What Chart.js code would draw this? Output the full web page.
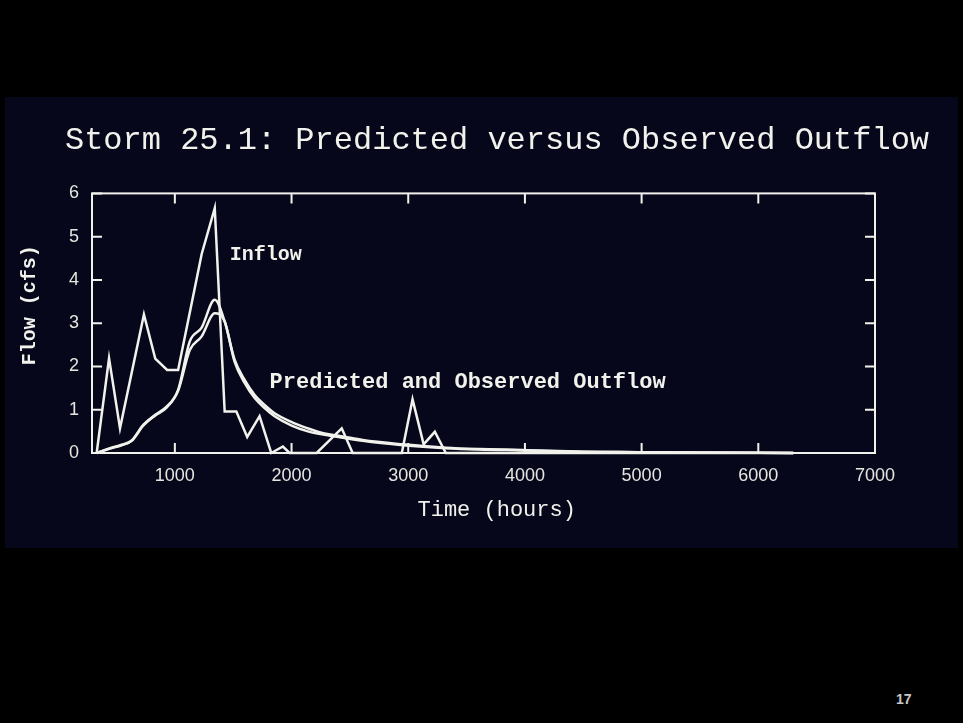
<!DOCTYPE html>
<html>
<head>
<meta charset="utf-8">
<script src="https://cdn.jsdelivr.net/npm/chart.js@4.4.1/dist/chart.umd.min.js"></script>
<style>
  body { margin: 0; background: #000; width: 963px; height: 723px; overflow: hidden; position: relative; }
  #panel { position: absolute; left: 5px; top: 97px; width: 953px; height: 451px; background: #07071b; }
  #page-no { position: absolute; left: 896px; top: 691px; font: bold 14px "Liberation Sans", Arial, sans-serif; color: #c8c8c8; }
</style>
</head>
<body>
<div id="panel"><canvas id="storm" width="953" height="451"></canvas></div>
<div id="page-no">17</div>
<script>
// values (time in hours, flow in cfs)
const inflowHours = [330, 436, 530, 735, 832, 934, 1028, 1230, 1342, 1427, 1527, 1620, 1726, 1826, 1926, 1983, 2215, 2430, 2524, 2945, 3037, 3132, 3228, 3322, 6300];
const inflowCfs   = [0, 2.19, 0.57, 3.2, 2.18, 1.92, 1.92, 4.6, 5.66, 0.96, 0.96, 0.37, 0.85, 0, 0.15, 0, 0, 0.57, 0, 0, 1.24, 0.2, 0.49, 0, 0];

const outflowHours = [330, 444, 544, 630, 729, 829, 929, 1028, 1128, 1228, 1342, 1427, 1513, 1598, 1684, 1769, 1855, 1997, 2140, 2282, 2425, 2610, 2952, 3322, 3607, 3977, 4490, 4974, 5500, 6300];
const predictedCfs = [0, 0.11, 0.19, 0.29, 0.65, 0.88, 1.07, 1.46, 2.58, 2.89, 3.54, 3.04, 2.15, 1.69, 1.34, 1.11, 0.92, 0.72, 0.57, 0.45, 0.39, 0.30, 0.20, 0.12, 0.09, 0.07, 0.03, 0.02, 0.01, 0];
const observedCfs  = [0, 0.10, 0.18, 0.28, 0.63, 0.86, 1.05, 1.44, 2.38, 2.69, 3.23, 3.04, 2.10, 1.62, 1.27, 1.04, 0.85, 0.64, 0.50, 0.42, 0.36, 0.28, 0.18, 0.11, 0.08, 0.06, 0.03, 0.02, 0.01, 0];

const xTickHours = [1000, 2000, 3000, 4000, 5000, 6000, 7000];
const yTickCfs = [0, 1, 2, 3, 4, 5, 6];

const ink = '#f2f2ec';
const mono = '"Liberation Mono", "Courier New", monospace';
const sans = '"Liberation Sans", Arial, sans-serif';

function points(xs, ys) {
  return xs.map((x, i) => ({x: x, y: ys[i]}));
}

function series(label, xs, ys, smooth) {
  return {
    label: label,
    data: points(xs, ys),
    borderColor: ink,
    borderWidth: 2.5,
    pointRadius: 0,
    fill: false,
    tension: 0,
    cubicInterpolationMode: smooth ? 'monotone' : 'default',
    clip: 4
  };
}

// frame with inward ticks on all four sides, plus the curve labels
const framePlugin = {
  id: 'frame',
  afterDatasetsDraw(chart, args, opts) {
    const {ctx, chartArea: a, scales: {x, y}} = chart;
    ctx.save();
    ctx.strokeStyle = ink;
    ctx.lineWidth = 2;
    ctx.strokeRect(a.left, a.top, a.right - a.left, a.bottom - a.top);
    ctx.beginPath();
    x.ticks.forEach(t => {
      const px = x.getPixelForValue(t.value);
      ctx.moveTo(px, a.bottom); ctx.lineTo(px, a.bottom - 10);
      ctx.moveTo(px, a.top); ctx.lineTo(px, a.top + 10);
    });
    y.ticks.forEach(t => {
      const py = y.getPixelForValue(t.value);
      ctx.moveTo(a.left, py); ctx.lineTo(a.left + 10, py);
      ctx.moveTo(a.right, py); ctx.lineTo(a.right - 10, py);
    });
    ctx.stroke();

    ctx.fillStyle = ink;
    ctx.textAlign = 'left';
    ctx.textBaseline = 'middle';
    opts.labels.forEach(l => {
      ctx.font = 'bold ' + l.size + 'px ' + mono;
      ctx.fillText(l.text, x.getPixelForValue(l.hour), y.getPixelForValue(l.cfs));
    });
    ctx.restore();
  }
};

new Chart(document.getElementById('storm'), {
  type: 'line',
  data: {
    datasets: [
      series('Inflow', inflowHours, inflowCfs, false),
      series('Predicted Outflow', outflowHours, predictedCfs, true),
      series('Observed Outflow', outflowHours, observedCfs, true)
    ]
  },
  options: {
    responsive: false,
    animation: false,
    devicePixelRatio: 1,
    layout: { padding: { left: 31, right: 0, top: 0, bottom: 0 } },
    plugins: {
      legend: { display: false },
      tooltip: { enabled: false },
      title: {
        display: true,
        text: 'Storm 25.1: Predicted versus Observed Outflow',
        color: ink,
        font: { family: mono, size: 32, weight: 'normal' },
        padding: { top: 24, bottom: 34 }
      },
      frame: {
        labels: [
          { text: 'Inflow', hour: 1470, cfs: 4.58, size: 20 },
          { text: 'Predicted and Observed Outflow', hour: 1812, cfs: 1.62, size: 22 }
        ]
      }
    },
    scales: {
      x: {
        type: 'linear',
        min: 290,
        max: 7000,
        afterBuildTicks: s => { s.ticks = xTickHours.map(v => ({value: v})); },
        afterFit: s => { s.height = 95; },
        grid: { display: false, drawTicks: false },
        border: { display: false },
        ticks: {
          color: '#e6e6e0', padding: 12, maxRotation: 0,
          font: { family: sans, size: 18 },
          callback: v => String(v)
        },
        title: {
          display: true,
          text: '  Time (hours)',
          color: ink,
          font: { family: mono, size: 22, weight: 'normal' },
          padding: { top: 0, bottom: 25 }
        }
      },
      y: {
        min: 0,
        max: 6,
        afterBuildTicks: s => { s.ticks = yTickCfs.map(v => ({value: v})); },
        afterFit: s => { s.width = 56; },
        grid: { display: false, drawTicks: false },
        border: { display: false },
        ticks: { color: '#e6e6e0', padding: 13, font: { family: sans, size: 18 } },
        title: {
          display: true,
          text: '   Flow (cfs)',
          color: ink,
          font: { family: mono, size: 20, weight: 'bold' },
          padding: { top: -18, bottom: 0 }
        }
      },
      right: {
        type: 'linear',
        position: 'right',
        afterFit: s => { s.width = 83; },
        grid: { display: false, drawTicks: false },
        border: { display: false },
        ticks: { display: false }
      }
    }
  },
  plugins: [framePlugin]
});
</script>
</body>
</html>
